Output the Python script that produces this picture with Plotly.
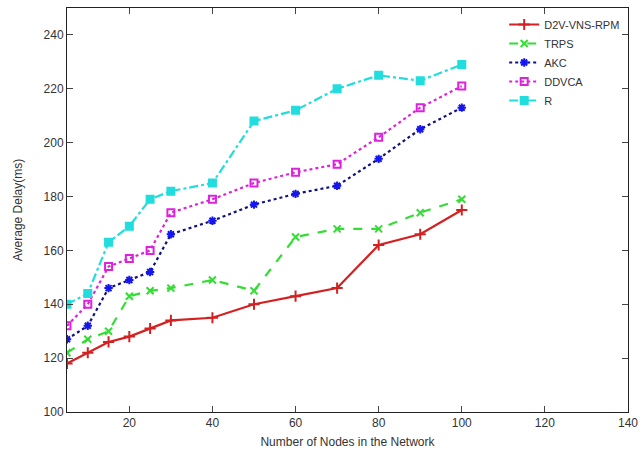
import plotly.graph_objects as go

nodes = [5, 10, 15, 20, 25, 30, 40, 50, 60, 70, 80, 90, 100]
d2v_vns_rpm = [118, 122, 126, 128, 131, 134, 135, 140, 143, 146, 162, 166, 175]
trps = [122, 127, 130, 143, 145, 146, 149, 145, 165, 168, 168, 174, 179]
akc = [127, 132, 146, 149, 152, 166, 171, 177, 181, 184, 194, 205, 213]
ddvca = [132, 140, 154, 157, 160, 174, 179, 185, 189, 192, 202, 213, 221]
r_vals = [140, 144, 163, 169, 179, 182, 185, 208, 212, 220, 225, 223, 229]

x_ticks = [20, 40, 60, 80, 100, 120, 140]
y_ticks = [100, 120, 140, 160, 180, 200, 220, 240]

series = [
    ("D2V-VNS-RPM", d2v_vns_rpm, "#d42020", "#d42020", "solid", "cross-thin-open", 8),
    ("TRPS", trps, "#33dd33", "#33dd33", "dash", "x-thin-open", 7),
    ("AKC", akc, "#101080", "#1515ee", "dot", "asterisk-open", 7),
    ("DDVCA", ddvca, "#dd22dd", "#dd22dd", "dot", "square-open", 7),
    ("R", r_vals, "#22dddd", "#22dddd", "dashdot", "square", 7),
]

fig = go.Figure()
for name, vals, lcol, mcol, dash, sym, size in series:
    fig.add_trace(go.Scatter(
        x=nodes, y=vals, name=name, mode="lines+markers",
        line=dict(color=lcol, width=2.2, dash=dash),
        marker=dict(symbol=sym, size=size, color=mcol,
                    line=dict(color=mcol, width=2)),
    ))

font_family = "Liberation Sans, Arial, sans-serif"
fig.update_layout(
    width=641, height=450,
    margin=dict(l=67, r=13, t=8, b=38, autoexpand=False),
    paper_bgcolor="white", plot_bgcolor="white",
    font=dict(family=font_family, size=12, color="#333333"),
    showlegend=True,
    legend=dict(x=0.995, y=0.995, xanchor="right", yanchor="top",
                bgcolor="rgba(0,0,0,0)", font=dict(size=11),
                tracegroupgap=0, itemwidth=30),
    xaxis=dict(range=[5, 140], tickvals=x_ticks, ticks="inside", ticklen=6,
               showline=True, linecolor="#222", linewidth=1, mirror="ticks",
               showgrid=False, zeroline=False, automargin=False,
               title=dict(text="Number of Nodes in the Network", standoff=8,
                          font=dict(size=12))),
    yaxis=dict(range=[100, 250], tickvals=y_ticks, ticks="inside", ticklen=6,
               showline=True, linecolor="#222", linewidth=1, mirror="ticks",
               showgrid=False, zeroline=False, automargin=False,
               title=dict(text="Average Delay(ms)", standoff=18,
                          font=dict(size=12))),
)

fig.write_html("out.html", config={"displayModeBar": False},
               post_script="document.body.style.margin='0px';document.body.style.overflow='hidden';")
